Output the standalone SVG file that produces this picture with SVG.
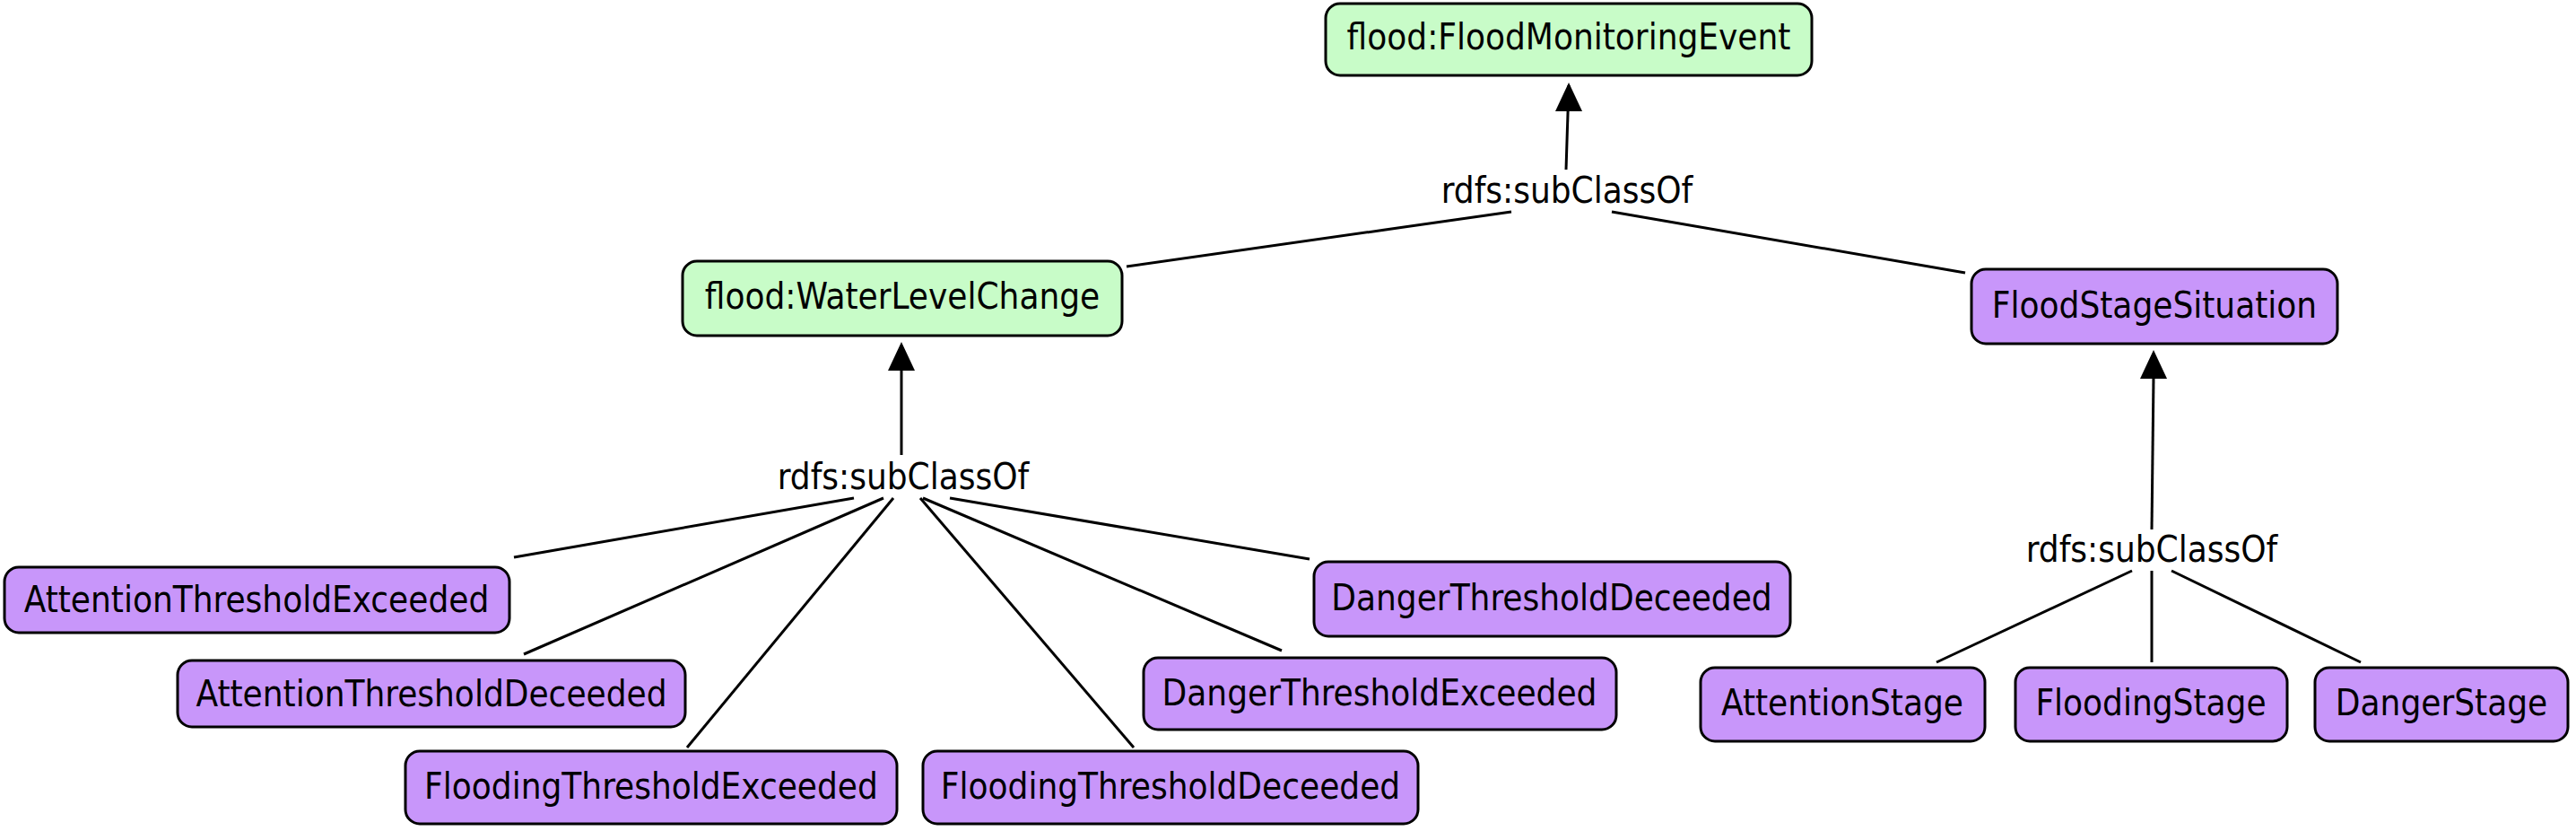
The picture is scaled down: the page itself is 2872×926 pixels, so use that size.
<svg xmlns="http://www.w3.org/2000/svg" width="2872" height="926" viewBox="0 0 2872 926">
<defs>
<style>
.n rect{stroke:#000;stroke-width:3}
.g rect{fill:#c8fcc8}
.p rect{fill:#c896fa}
text{font-family:"DejaVu Sans Condensed","DejaVu Sans",sans-serif;font-stretch:condensed;font-size:40px;fill:#000;text-anchor:middle}
.e line{stroke:#000;stroke-width:3}
</style>
</defs>
<rect width="2872" height="926" fill="#fff"/>
<g id="connectors" class="e">
<line x1="1746" y1="189" x2="1749" y2="95"/>
<path d="M1749,92 L1734,124 L1764,124 z" fill="#000"/>
<line x1="1685" y1="236" x2="1256" y2="297"/>
<line x1="1797" y1="236" x2="2191" y2="304"/>
<line x1="1005" y1="507" x2="1005" y2="410"/>
<path d="M1005,381 L990,413 L1020,413 z" fill="#000"/>
<line x1="952" y1="555" x2="573" y2="621"/>
<line x1="985" y1="555" x2="584" y2="729"/>
<line x1="996" y1="555" x2="766" y2="833"/>
<line x1="1026" y1="555" x2="1264" y2="833"/>
<line x1="1029" y1="555" x2="1429" y2="725"/>
<line x1="1059" y1="555" x2="1460" y2="623"/>
<line x1="2399" y1="590" x2="2401" y2="420"/>
<path d="M2401,390 L2386,422 L2416,422 z" fill="#000"/>
<line x1="2377" y1="636" x2="2159" y2="738"/>
<line x1="2399" y1="636" x2="2399" y2="738"/>
<line x1="2421" y1="636" x2="2632" y2="738"/>
<text x="1747" y="226">rdfs:subClassOf</text>
<text x="1007" y="545">rdfs:subClassOf</text>
<text x="2399" y="626">rdfs:subClassOf</text>
</g>
<g id="FloodMonitoringEvent" class="n g"><rect x="1478" y="4" width="542" height="80" rx="16"/><text x="1749" y="55">flood:FloodMonitoringEvent</text></g>
<g id="WaterLevelChange" class="n g"><rect x="761" y="291" width="490" height="83" rx="16"/><text x="1006" y="344">flood:WaterLevelChange</text></g>
<g id="FloodStageSituation" class="n p"><rect x="2198" y="300" width="408" height="83" rx="16"/><text x="2402" y="354">FloodStageSituation</text></g>
<g id="AttentionThresholdExceeded" class="n p"><rect x="5" y="632" width="563" height="73" rx="16"/><text x="286" y="682">AttentionThresholdExceeded</text></g>
<g id="AttentionThresholdDeceeded" class="n p"><rect x="198" y="736" width="566" height="74" rx="16"/><text x="481" y="787">AttentionThresholdDeceeded</text></g>
<g id="FloodingThresholdExceeded" class="n p"><rect x="452" y="837" width="548" height="81" rx="16"/><text x="726" y="890">FloodingThresholdExceeded</text></g>
<g id="FloodingThresholdDeceeded" class="n p"><rect x="1029" y="837" width="552" height="81" rx="16"/><text x="1305" y="890">FloodingThresholdDeceeded</text></g>
<g id="DangerThresholdExceeded" class="n p"><rect x="1275" y="733" width="527" height="80" rx="16"/><text x="1538" y="786">DangerThresholdExceeded</text></g>
<g id="DangerThresholdDeceeded" class="n p"><rect x="1465" y="626" width="531" height="83" rx="16"/><text x="1730" y="680">DangerThresholdDeceeded</text></g>
<g id="AttentionStage" class="n p"><rect x="1896" y="744" width="317" height="82" rx="16"/><text x="2054" y="797">AttentionStage</text></g>
<g id="FloodingStage" class="n p"><rect x="2247" y="744" width="303" height="82" rx="16"/><text x="2398" y="797">FloodingStage</text></g>
<g id="DangerStage" class="n p"><rect x="2581" y="744" width="282" height="82" rx="16"/><text x="2722" y="797">DangerStage</text></g>
</svg>
